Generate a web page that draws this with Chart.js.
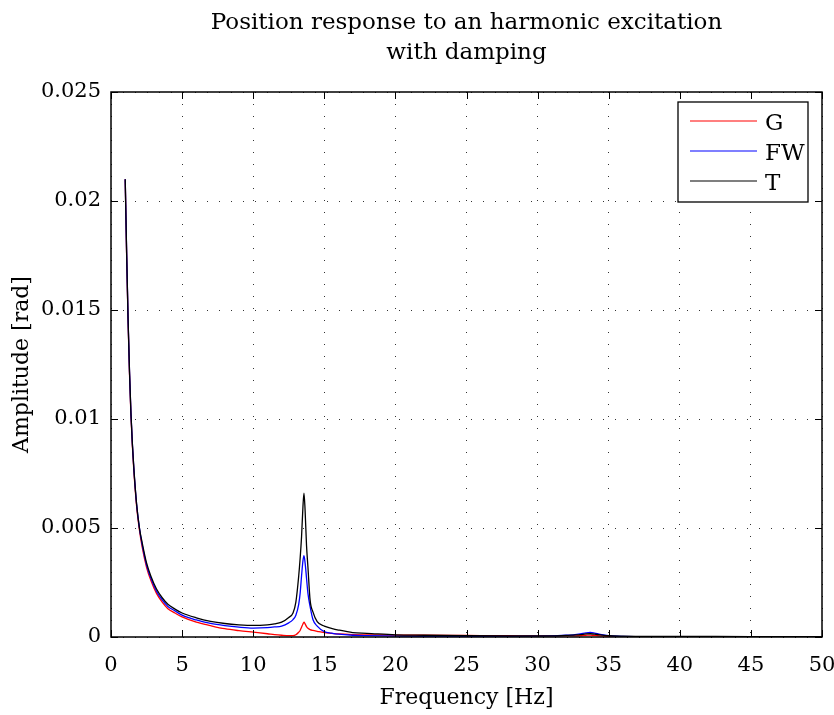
<!DOCTYPE html>
<html>
<head>
<meta charset="utf-8">
<title>Position response to an harmonic excitation</title>
<script src="https://cdn.jsdelivr.net/npm/chart.js@4.4.1/dist/chart.umd.min.js"></script>
<style>
  html, body { margin: 0; padding: 0; background: #fff; }
  #wrap { width: 834px; height: 715px; }
</style>
</head>
<body>
<div id="wrap"><canvas id="chart" width="834" height="715"></canvas></div>
<script>
// Frequency grid [Hz], denser near the two resonances
const freqs = [
  1, 1.1, 1.2, 1.3, 1.4, 1.5, 1.6, 1.8, 2, 2.2, 2.5, 2.8, 3.2, 3.6, 4, 4.5, 5, 6, 7, 8, 9, 10,
  11, 11.5, 12, 12.5, 12.8, 13, 13.2, 13.3, 13.4, 13.5, 13.57, 13.65, 13.75, 13.85, 14, 14.2, 14.5,
  15, 15.5, 16, 17, 18, 20, 22, 25, 28, 30, 31, 32, 32.5, 33, 33.4, 33.7, 34, 34.4, 35, 36, 38, 40, 45, 50
];

// Amplitude [rad]
const ampG = [
  0.0210, 0.0175, 0.0145, 0.0121, 0.0102, 0.0088, 0.0077, 0.0060, 0.0049, 0.0041, 0.0032, 0.0026, 0.0020, 0.0016, 0.0013, 0.0011, 0.00092, 0.00068, 0.00052, 0.00038, 0.00029, 0.00022,
  0.00015, 0.00011, 0.00008, 0.00006, 0.00006, 0.0001, 0.00022, 0.0003, 0.00045, 0.0006, 0.00068, 0.0006, 0.00048, 0.0004, 0.00034, 0.0003, 0.00026,
  0.0002, 0.00017, 0.00014, 0.00011, 0.0001, 0.00009, 0.00008, 0.00007, 0.00006, 0.00005, 0.00005, 0.00005, 0.00005, 0.00006, 0.00008, 0.00009, 0.00007, 0.00005, 0.00003, 0.00002, 0.00001, 0.00001, 0.00001, 0.00001
];
const ampFW = [
  0.0210, 0.0176, 0.0146, 0.0122, 0.0103, 0.0089, 0.0078, 0.0061, 0.0050, 0.0042, 0.0033, 0.0027, 0.0021, 0.0017, 0.0014, 0.0012, 0.0010, 0.00078, 0.00062, 0.00052, 0.00045, 0.00041,
  0.00043, 0.00046, 0.0005, 0.00065, 0.0008, 0.001, 0.0015, 0.002, 0.0028, 0.0035, 0.00373, 0.0034, 0.0027, 0.002, 0.0014, 0.0008, 0.0005,
  0.00025, 0.00018, 0.00013, 0.00008, 0.00006, 0.00004, 0.00003, 0.00003, 0.00003, 0.00004, 0.00005, 0.00008, 0.0001, 0.00014, 0.00019, 0.00021, 0.00018, 0.00012, 0.00006, 0.00003, 0.00002, 0.00002, 0.00001, 0.00001
];
const ampT = [
  0.0210, 0.0176, 0.0146, 0.0122, 0.0103, 0.0089, 0.0078, 0.0061, 0.0050, 0.0043, 0.0034, 0.0028, 0.0022, 0.0018, 0.0015, 0.00128, 0.0011, 0.00088, 0.00072, 0.00062, 0.00056, 0.00053,
  0.00056, 0.0006, 0.00068, 0.0009, 0.0011, 0.0016, 0.0028, 0.0036, 0.0046, 0.006, 0.0066, 0.0058, 0.0042, 0.0032, 0.0017, 0.00115, 0.0007,
  0.0005, 0.0004, 0.00032, 0.0002, 0.00017, 0.0001, 0.00008, 0.00006, 0.00005, 0.00005, 0.00005, 0.00007, 0.00009, 0.00011, 0.00014, 0.00015, 0.00013, 0.0001, 0.00006, 0.00004, 0.00003, 0.00003, 0.00002, 0.00002
];

const seriesNames = ['G', 'FW', 'T'];
const seriesColors = ['#ff0000', '#0000ff', '#000000'];
const xTickLabels = ['0', '5', '10', '15', '20', '25', '30', '35', '40', '45', '50'];
const yTickLabels = ['0', '0.005', '0.01', '0.015', '0.02', '0.025'];
const titleLines = ['Position response to an harmonic excitation', 'with damping'];

const serif = "'DejaVu Serif', 'Liberation Serif', serif";

function toPoints(values) {
  return freqs.map((f, i) => ({ x: f, y: values[i] }));
}

// title over the plot, box round the plot, inward ticks on all four sides, legend inside
const framePlugin = {
  id: 'frame',
  afterDatasetsDraw(chart) {
    const { ctx, chartArea: a, scales } = chart;
    const tick = 7;
    ctx.save();
    ctx.strokeStyle = '#000';
    ctx.lineWidth = 1;
    ctx.beginPath();
    scales.x.ticks.forEach(t => {
      const px = Math.round(scales.x.getPixelForValue(t.value)) + 0.5;
      ctx.moveTo(px, a.bottom); ctx.lineTo(px, a.bottom - tick);
      ctx.moveTo(px, a.top); ctx.lineTo(px, a.top + tick);
    });
    scales.y.ticks.forEach(t => {
      const py = Math.round(scales.y.getPixelForValue(t.value)) + 0.5;
      ctx.moveTo(a.left, py); ctx.lineTo(a.left + tick, py);
      ctx.moveTo(a.right, py); ctx.lineTo(a.right - tick, py);
    });
    ctx.stroke();
    ctx.lineWidth = 1.5;
    ctx.strokeRect(a.left, a.top, a.right - a.left, a.bottom - a.top);

    // title
    ctx.fillStyle = '#000';
    ctx.font = '23px ' + serif;
    ctx.textAlign = 'center';
    ctx.textBaseline = 'alphabetic';
    const cx = (a.left + a.right) / 2;
    titleLines.forEach((line, i) => ctx.fillText(line, cx, 29 + i * 30));

    // legend
    const bx = a.right - 144, by = a.top + 10, bw = 130, bh = 100;
    ctx.fillStyle = '#fff';
    ctx.fillRect(bx, by, bw, bh);
    ctx.lineWidth = 1.3;
    ctx.strokeRect(bx, by, bw, bh);
    ctx.font = '23px ' + serif;
    ctx.textAlign = 'left';
    chart.data.datasets.forEach((ds, i) => {
      const ly = by + 19 + i * 30;
      ctx.strokeStyle = ds.borderColor;
      ctx.lineWidth = 1.2;
      ctx.beginPath();
      ctx.moveTo(bx + 12, ly); ctx.lineTo(bx + 79, ly);
      ctx.stroke();
      ctx.fillStyle = '#000';
      ctx.fillText(ds.label, bx + 87, ly + 9);
    });
    ctx.restore();
  }
};

const datasets = seriesNames.map((name, i) => ({
  label: name,
  data: toPoints([ampG, ampFW, ampT][i]),
  borderColor: seriesColors[i],
  borderWidth: 1.3,
  pointRadius: 0,
  fill: false,
  cubicInterpolationMode: 'monotone',
  order: 3 - i
}));

new Chart(document.getElementById('chart'), {
  type: 'line',
  data: { datasets: datasets },
  options: {
    responsive: false,
    animation: false,
    events: [],
    layout: { padding: { left: 0, right: 12, top: 92, bottom: 0 } },
    plugins: {
      legend: { display: false },
      tooltip: { enabled: false },
      title: { display: false }
    },
    scales: {
      x: {
        type: 'linear',
        min: 0,
        max: 50,
        afterFit: s => { s.height = 78; s.paddingLeft = 0; s.paddingRight = 0; },
        afterBuildTicks: s => { s.ticks = xTickLabels.map(v => ({ value: Number(v) })); },
        ticks: {
          color: '#000',
          padding: 16,
          maxRotation: 0,
          font: { family: serif, size: 21 },
          callback: (v, i) => xTickLabels[i]
        },
        grid: { color: '#333', lineWidth: 1, drawTicks: false },
        border: { display: false, dash: [1, 11] },
        title: {
          display: true,
          text: 'Frequency [Hz]',
          color: '#000',
          font: { family: serif, size: 22 },
          padding: { top: 0, bottom: 4 }
        }
      },
      y: {
        type: 'linear',
        min: 0,
        max: 0.025,
        afterFit: s => { s.width = 111; s.paddingTop = 0; s.paddingBottom = 0; },
        afterBuildTicks: s => { s.ticks = yTickLabels.map(v => ({ value: Number(v) })); },
        ticks: {
          color: '#000',
          padding: 10,
          font: { family: serif, size: 21 },
          callback: (v, i) => yTickLabels[i]
        },
        grid: { color: '#333', lineWidth: 1, drawTicks: false },
        border: { display: false, dash: [1, 11] },
        title: {
          display: true,
          text: 'Amplitude [rad]',
          color: '#000',
          font: { family: serif, size: 22 },
          padding: { top: 9, bottom: 0 }
        }
      }
    }
  },
  plugins: [framePlugin]
});
</script>
</body>
</html>
